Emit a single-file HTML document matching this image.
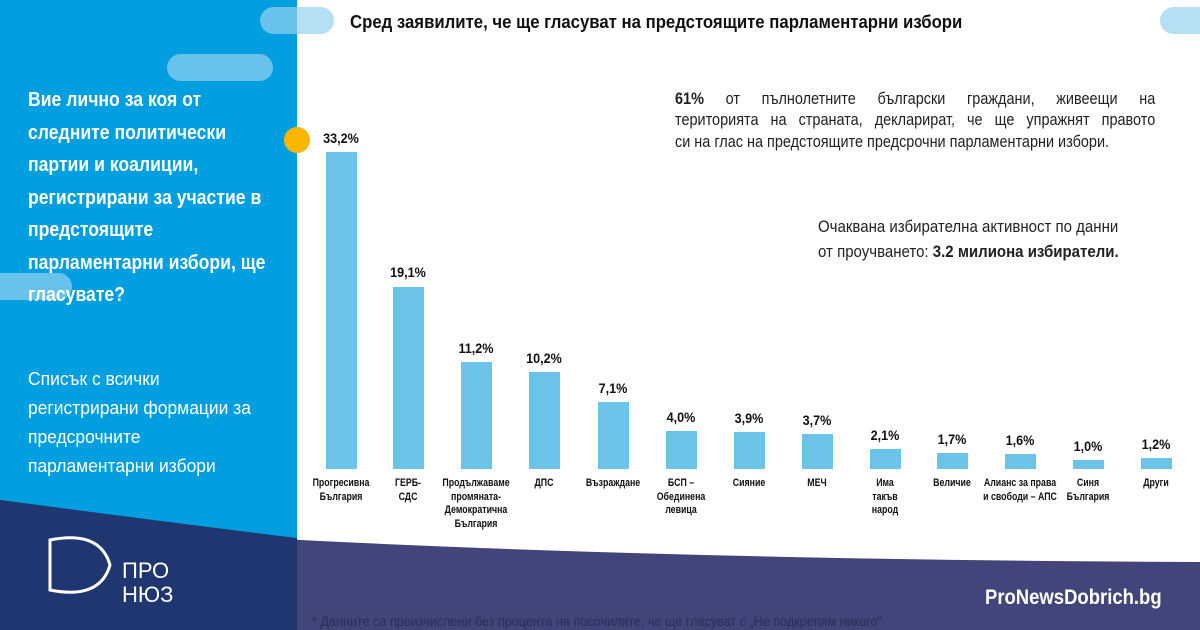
<!DOCTYPE html>
<html><head><meta charset="utf-8"><style>
body{margin:0;width:1200px;height:630px;overflow:hidden;background:#fff;font-family:"Liberation Sans",sans-serif;position:relative}
.a{position:absolute}
.pill{position:absolute;border-radius:14px;background:rgba(150,210,240,0.7)}
.q{left:28px;top:84px;width:282px;color:#fff;font-weight:bold;font-size:20px;line-height:32.5px;transform:scaleX(0.88);transform-origin:left}
.l{left:28px;top:365px;color:#fff;font-size:18px;line-height:29px;transform:scaleX(0.97);transform-origin:left}
.bar{position:absolute;width:31px;background:#6cc3e8}
.v{position:absolute;width:70px;text-align:center;font-weight:bold;font-size:14px;color:#111;transform:scaleX(0.9)}
.n{position:absolute;width:100px;text-align:center;font-weight:bold;font-size:11px;line-height:13.5px;color:#111;top:477px;transform:scaleX(0.8)}
.ln{position:absolute;left:675px;width:565px;font-size:17px;color:#222;text-align:justify;text-align-last:justify;transform:scaleX(0.85);transform-origin:left;white-space:nowrap}
</style></head><body>
<div class="a" style="left:0;top:0;width:297px;height:630px;background:#019fdf"></div>
<div class="pill" style="left:260px;top:7px;width:74px;height:27px"></div>
<div class="pill" style="left:167px;top:54px;width:106px;height:27px"></div>
<div class="pill" style="left:-14px;top:273px;width:86px;height:27px"></div>
<div class="pill" style="left:1160px;top:7px;width:60px;height:27px"></div>
<div class="a" style="left:284px;top:127px;width:26px;height:26px;border-radius:50%;background:#fbb600"></div>
<div class="a q">Вие лично за коя от следните политически партии и коалиции, регистрирани за участие в предстоящите парламентарни избори, ще гласувате?</div>
<div class="a l">Списък с всички<br>регистрирани формации за<br>предсрочните<br>парламентарни избори</div>
<div class="a" style="left:350px;top:12px;font-weight:bold;font-size:18px;color:#111;transform:scaleX(0.93);transform-origin:left">Сред заявилите, че ще гласуват на предстоящите парламентарни избори</div>
<div class="ln" style="top:89px;white-space:normal"><b>61%</b> от пълнолетните български граждани, живеещи на</div>
<div class="ln" style="top:110px;white-space:normal">територията на страната, декларират, че ще упражнят правото</div>
<div class="ln" style="top:132px;text-align-last:left">си на глас на предстоящите предсрочни парламентарни избори.</div>
<div class="a" style="left:818px;top:215px;line-height:25px;font-size:16.5px;color:#222;transform:scaleX(0.91);transform-origin:left;white-space:nowrap">Очаквана избирателна активност по данни<br>от проучването: <b>3.2 милиона избиратели.</b></div>

<div class="bar" style="left:326px;top:152px;height:317px"></div><div class="v" style="left:306px;top:130px">33,2%</div>
<div class="bar" style="left:393px;top:287px;height:182px"></div><div class="v" style="left:373px;top:264px">19,1%</div>
<div class="bar" style="left:461px;top:362px;height:107px"></div><div class="v" style="left:441px;top:340px">11,2%</div>
<div class="bar" style="left:529px;top:372px;height:97px"></div><div class="v" style="left:509px;top:350px">10,2%</div>
<div class="bar" style="left:598px;top:402px;height:67px"></div><div class="v" style="left:578px;top:380px">7,1%</div>
<div class="bar" style="left:666px;top:431px;height:38px"></div><div class="v" style="left:646px;top:409px">4,0%</div>
<div class="bar" style="left:734px;top:432px;height:37px"></div><div class="v" style="left:714px;top:410px">3,9%</div>
<div class="bar" style="left:802px;top:434px;height:35px"></div><div class="v" style="left:782px;top:412px">3,7%</div>
<div class="bar" style="left:870px;top:449px;height:20px"></div><div class="v" style="left:850px;top:427px">2,1%</div>
<div class="bar" style="left:937px;top:453px;height:16px"></div><div class="v" style="left:917px;top:431px">1,7%</div>
<div class="bar" style="left:1005px;top:454px;height:15px"></div><div class="v" style="left:985px;top:432px">1,6%</div>
<div class="bar" style="left:1073px;top:460px;height:9px"></div><div class="v" style="left:1053px;top:438px">1,0%</div>
<div class="bar" style="left:1141px;top:458px;height:11px"></div><div class="v" style="left:1121px;top:436px">1,2%</div>

<div class="n" style="left:291px">Прогресивна<br>България</div>
<div class="n" style="left:358px">ГЕРБ-<br>СДС</div>
<div class="n" style="left:426px">Продължаваме<br>промяната-<br>Демократична<br>България</div>
<div class="n" style="left:494px">ДПС</div>
<div class="n" style="left:563px">Възраждане</div>
<div class="n" style="left:631px">БСП –<br>Обединена<br>левица</div>
<div class="n" style="left:699px">Сияние</div>
<div class="n" style="left:767px">МЕЧ</div>
<div class="n" style="left:835px">Има<br>такъв<br>народ</div>
<div class="n" style="left:902px">Величие</div>
<div class="n" style="left:970px">Алианс за права<br>и свободи – АПС</div>
<div class="n" style="left:1038px">Синя<br>България</div>
<div class="n" style="left:1106px">Други</div>

<svg class="a" style="left:0;top:0" width="1200" height="630">
<path d="M0,500 Q150,520 300,540 Q700,560 1200,562 L1200,630 L0,630Z" fill="#41457a"/>
<path d="M0,500 Q150,520 297,538 L297,630 L0,630Z" fill="#1f3670"/>
<g fill="none" stroke="#fff" stroke-width="3">
<path d="M50,540 L50,590 Q100,600 110,565 Q100,530 50,540Z"/>
</g>
<text x="122" y="578" fill="#fff" font-size="22" font-family="Liberation Sans">ПРО</text>
<text x="122" y="602" fill="#fff" font-size="22" font-family="Liberation Sans">НЮЗ</text>
</svg>
<div class="a" style="left:985px;top:586px;color:#fff;font-weight:bold;font-size:21px;transform:scaleX(0.88);transform-origin:left">ProNewsDobrich.bg</div>
<div class="a" style="left:312px;top:613px;color:#2a2f55;font-size:14px;transform:scaleX(0.9);transform-origin:left;white-space:nowrap">* Данните са преизчислени без процента на посочилите, че ще гласуват с „Не подкрепям никого"</div>
</body></html>
